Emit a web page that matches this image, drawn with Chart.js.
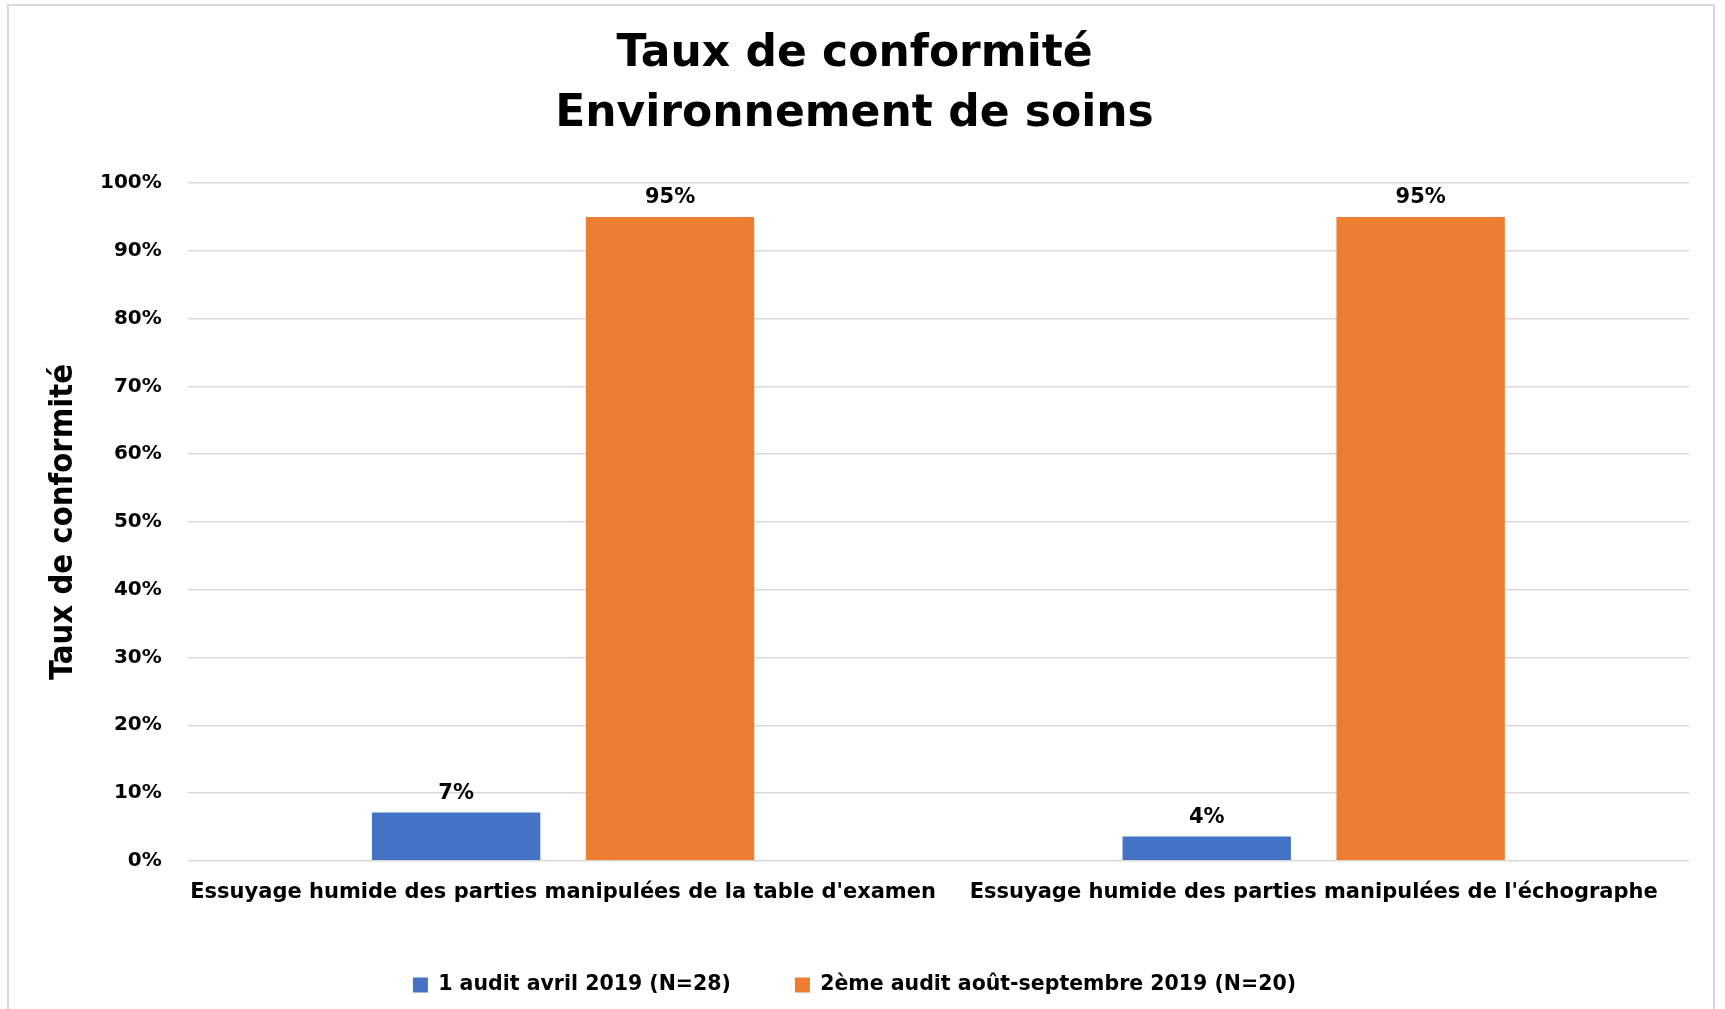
<!DOCTYPE html>
<html>
<head>
<meta charset="utf-8">
<script src="https://cdn.jsdelivr.net/npm/chart.js@4"></script>
<style>
  html, body { margin: 0; padding: 0; background: #fff; overflow: hidden; }
  #cadre { position: absolute; left: 7px; top: 4px; width: 1708px; height: 1100px; border: 2px solid #d9d9d9; box-sizing: border-box; }
  #zone { position: absolute; left: 0; top: 0; width: 1725px; height: 1009px; }
</style>
</head>
<body>
<div id="cadre"></div>
<div id="zone"><canvas id="graphique"></canvas></div>
<script>
// Données du graphique
const categories = [
  "Essuyage humide des parties manipulées de la table d'examen",
  "Essuyage humide des parties manipulées de l'échographe"
];
const series = ['1 audit avril 2019 (N=28)', '2ème audit août-septembre 2019 (N=20)'];
const audit1 = [7.14, 3.57];
const audit2 = [95, 95];
const titre = ['Taux de conformité', 'Environnement de soins'];
const titreY = 'Taux de conformité';

const police = "'DejaVu Sans', sans-serif";

// étiquettes de valeur au-dessus des barres
const etiquettes = {
  id: 'etiquettes',
  afterDatasetsDraw(chart) {
    const ctx = chart.ctx;
    ctx.save();
    ctx.font = "bold 21px " + police;
    ctx.fillStyle = '#000';
    ctx.textAlign = 'center';
    ctx.textBaseline = 'middle';
    chart.data.datasets.forEach((ds, i) => {
      chart.getDatasetMeta(i).data.forEach((bar, j) => {
        ctx.fillText(Math.round(ds.data[j]) + '%', bar.x, bar.y - 19);
      });
    });
    ctx.restore();
  }
};

const ctx = document.getElementById('graphique').getContext('2d');
new Chart(ctx, {
  type: 'bar',
  data: {
    labels: categories,
    datasets: [
      { label: series[0], data: audit1, backgroundColor: '#4472C4' },
      { label: series[1], data: audit2, backgroundColor: '#ED7D31' }
    ]
  },
  options: {
    responsive: true,
    maintainAspectRatio: false,
    animation: false,
    layout: { padding: { left: 20, right: 36, top: 0, bottom: 3.7 } },
    datasets: { bar: { categoryPercentage: 0.57, barPercentage: 0.787 } },
    plugins: {
      title: {
        display: true,
        text: titre,
        color: '#000',
        font: { family: police, size: 44, weight: 'bold', lineHeight: 1.37 },
        padding: { top: 24.5, bottom: 38 }
      },
      legend: {
        position: 'bottom',
        // titre vide à hauteur négative : rapproche la légende de l'axe
        title: { display: true, text: '', font: { size: 1 }, padding: { top: -15.2, bottom: 0 } },
        labels: {
          color: '#000',
          font: { family: police, size: 20.5, weight: 'bold' },
          boxWidth: 15,
          boxHeight: 15,
          padding: 64
        }
      },
      tooltip: { enabled: false }
    },
    scales: {
      x: {
        grid: { display: false, drawTicks: false },
        border: { display: false },
        ticks: {
          color: '#000',
          font: { family: police, size: 21, weight: 'bold', lineHeight: 1.19 },
          maxRotation: 0,
          minRotation: 0,
          autoSkip: false,
          padding: 19.5
        }
      },
      y: {
        min: 0,
        max: 100,
        grid: { color: '#d9d9d9', lineWidth: 1.5, drawTicks: false },
        border: { display: false },
        ticks: {
          stepSize: 10,
          color: '#000',
          font: { family: police, size: 20, weight: 'bold' },
          padding: 26,
          callback: v => v + '%'
        },
        title: {
          display: true,
          text: titreY,
          color: '#000',
          font: { family: "'DejaVu Sans Condensed', sans-serif", size: 32.5, weight: 'bold', lineHeight: 1.2 },
          padding: { top: 24.5, bottom: -9.5 }
        }
      }
    }
  },
  plugins: [etiquettes]
});
</script>
</body>
</html>
